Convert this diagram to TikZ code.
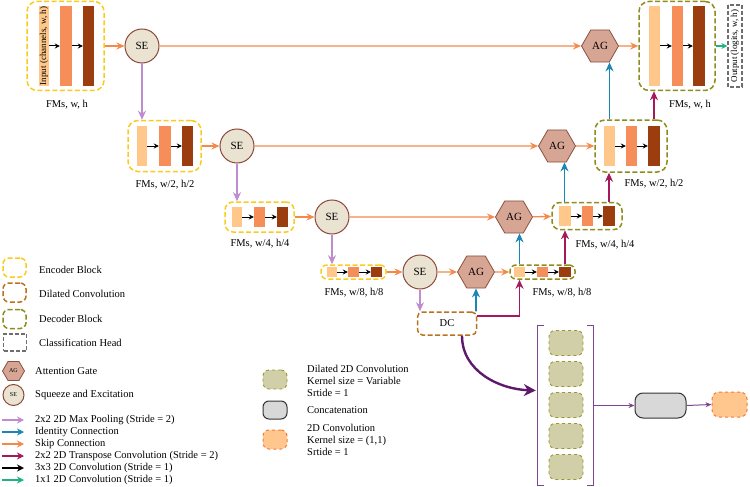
\documentclass[tikz,border=0pt]{standalone}
\usepackage{fontspec}
\setmainfont{Liberation Serif}
\usepackage{tikz}
\usetikzlibrary{positioning,shapes.geometric,arrows.meta}
\definecolor{encY}{HTML}{FACB1E}
\definecolor{dcBr}{HTML}{B8731E}
\definecolor{decOl}{HTML}{8E8C1C}
\definecolor{chGr}{HTML}{6E6E6E}
\definecolor{agFill}{HTML}{D7A593}
\definecolor{agDraw}{HTML}{8A5040}
\definecolor{seFill}{HTML}{EAE3D2}
\definecolor{seDraw}{HTML}{8C4A3C}
\definecolor{barA}{HTML}{FFC88A}
\definecolor{barB}{HTML}{F68E59}
\definecolor{barC}{HTML}{9B3D0F}
\definecolor{poolC}{HTML}{C08CD0}
\definecolor{idC}{HTML}{1B86B3}
\definecolor{skipC}{HTML}{F5894C}
\definecolor{tconvC}{HTML}{A4195B}
\definecolor{convG}{HTML}{1DB57A}
\definecolor{dcArrow}{HTML}{5D1A6B}
\definecolor{brkC}{HTML}{7E4490}
\definecolor{dlFill}{HTML}{D0CFA8}
\definecolor{dlDraw}{HTML}{9A9830}
\definecolor{catFill}{HTML}{D8D8D8}
\definecolor{cvFill}{HTML}{FFC78E}
\definecolor{cvDraw}{HTML}{F57A3C}

\begin{document}
\begin{tikzpicture}[x=1pt,y=-1pt,every node/.style={font=\fontsize{10.5}{12}\selectfont},
 blk/.style={draw,inner sep=0,line width=1.5pt,dash pattern=on 5pt off 2.5pt},
 enc/.style={blk,draw=encY,rounded corners=10pt},
 dec/.style={blk,draw=decOl,rounded corners=10pt},
 dcbox/.style={blk,draw=dcBr,rounded corners=5pt,minimum width=59pt,minimum height=23pt},
 chead/.style={blk,draw=chGr,line width=1.2pt,dash pattern=on 4pt off 2pt},
 bara/.style={fill=barA,inner sep=0},
 barb/.style={fill=barB,inner sep=0},
 barc/.style={fill=barC,inner sep=0},
 agnode/.style={regular polygon,regular polygon sides=6,minimum size=37pt,inner sep=0,
   fill=agFill,draw=agDraw,line width=0.8pt,font=\fontsize{11}{12}\selectfont},
 senode/.style={circle,fill=seFill,draw=seDraw,line width=1pt,minimum size=34pt,inner sep=0,
   font=\fontsize{11}{12}\selectfont},
 dlbox/.style={fill=dlFill,draw=dlDraw,line width=0.9pt,dashed,rounded corners=6pt,
   minimum width=34pt,minimum height=25pt,inner sep=0},
 catbox/.style={fill=catFill,draw=black!80,line width=1pt,rounded corners=8pt,
   minimum width=51pt,minimum height=25pt,inner sep=0},
 cvbox/.style={fill=cvFill,draw=cvDraw,line width=1pt,dashed,rounded corners=7pt,
   minimum width=35pt,minimum height=25pt,inner sep=0},
 pool/.style={draw=poolC,line width=1.8pt,-{Stealth[length=9pt,width=8pt]}},
 ident/.style={draw=idC,line width=1.8pt,-{Stealth[length=9pt,width=8pt]}},
 skip/.style={draw=skipC,line width=1.3pt,-{Stealth[length=8pt,width=7pt]}},
 tconv/.style={draw=tconvC,line width=1.8pt,-{Stealth[length=9pt,width=8pt]}},
 conv/.style={draw=black,line width=1pt,-{Stealth[length=5pt,width=5pt]}},
 onebyone/.style={draw=convG,line width=1.3pt,-{Stealth[length=6pt,width=6pt]}},
 brkline/.style={draw=brkC,line width=1.2pt},
 brkarrow/.style={draw=brkC,line width=1pt,-{Stealth[length=6pt,width=5pt]}},
 dcline/.style={draw=dcArrow,line width=2.4pt,-{Stealth[length=12pt,width=12pt]}},
 fms/.style={font=\fontsize{10.5}{12}\selectfont},
 legtext/.style={anchor=west,inner sep=0,align=left,font=\fontsize{10.5}{12}\selectfont}]
\useasboundingbox (0,0) rectangle (750,487);

% encoder
\node[enc,minimum width=77pt,minimum height=89pt] (enc1) at (65.5,46) {};
\node[bara,minimum width=80pt,minimum height=10pt,rotate=90,
  font=\fontsize{9}{9}\selectfont] (e1a) at (44,46) {Input (channels, w, h)};
\node[barb,minimum width=12pt,minimum height=80pt] (e1b) at (66,46) {};
\node[barc,minimum width=11pt,minimum height=80pt] (e1c) at (88.5,46) {};
\node[fms] (l1) at (67,105) {FMs, w, h};
\node[senode] (se1) at (142,46) {SE};

\node[enc,minimum width=73pt,minimum height=51pt] (enc2) at (164.5,146) {};
\node[bara,minimum width=10pt,minimum height=40pt] (e2a) at (142,146) {};
\node[barb,minimum width=12pt,minimum height=40pt] (e2b) at (165,146) {};
\node[barc,minimum width=11pt,minimum height=40pt] (e2c) at (187.5,146) {};
\node[fms] (l2) at (165,185) {FMs, w/2, h/2};
\node[senode] (se2) at (237,146) {SE};

\node[enc,rounded corners=8pt,minimum width=69pt,minimum height=30pt] (enc3) at (259.5,217) {};
\node[bara,minimum width=10pt,minimum height=20pt] (e3a) at (237,217) {};
\node[barb,minimum width=11pt,minimum height=20pt] (e3b) at (259.5,217) {};
\node[barc,minimum width=11pt,minimum height=20pt] (e3c) at (282.5,217) {};
\node[fms] (l3) at (260,244) {FMs, w/4, h/4};
\node[senode] (se3) at (332,217) {SE};

\node[enc,rounded corners=6pt,minimum width=65pt,minimum height=14pt] (enc4) at (353.5,272) {};
\node[bara,minimum width=10pt,minimum height=10pt] (e4a) at (332,272) {};
\node[barb,minimum width=11pt,minimum height=10pt] (e4b) at (353.5,272) {};
\node[barc,minimum width=11pt,minimum height=10pt] (e4c) at (376.5,272) {};
\node[fms] (l4) at (354,293) {FMs, w/8, h/8};
\node[senode] (se4) at (420,272) {SE};

\node[dcbox] (dc) at (447,323.5) {DC};

% attention gates
\node[agnode] (ag1) at (600,46) {AG};
\node[agnode] (ag2) at (557,146) {AG};
\node[agnode] (ag3) at (514,217) {AG};
\node[agnode] (ag4) at (476,272) {AG};

% decoder
\node[dec,minimum width=76pt,minimum height=89pt] (dec1) at (677,46) {};
\node[bara,minimum width=11pt,minimum height=80pt] (d1a) at (654.5,46) {};
\node[barb,minimum width=11pt,minimum height=80pt] (d1b) at (677.5,46) {};
\node[barc,minimum width=12pt,minimum height=80pt] (d1c) at (699,46) {};
\node[fms] (l5) at (690,105) {FMs, w, h};
\node[chead,minimum width=82pt,minimum height=14pt,rotate=90,
  font=\fontsize{9}{9}\selectfont] (out) at (735,46) {Output (logits, w, h)};

\node[dec,minimum width=72pt,minimum height=52pt] (dec2) at (631,146) {};
\node[bara,minimum width=11pt,minimum height=40pt] (d2a) at (609.5,146) {};
\node[barb,minimum width=11pt,minimum height=40pt] (d2b) at (631.5,146) {};
\node[barc,minimum width=12pt,minimum height=40pt] (d2c) at (654,146) {};
\node[fms] (l6) at (654,184) {FMs, w/2, h/2};

\node[dec,rounded corners=8pt,minimum width=70pt,minimum height=27pt] (dec3) at (587,216) {};
\node[bara,minimum width=12pt,minimum height=20pt] (d3a) at (564.5,216) {};
\node[barb,minimum width=11pt,minimum height=20pt] (d3b) at (587.5,216) {};
\node[barc,minimum width=12pt,minimum height=20pt] (d3c) at (609,216) {};
\node[fms] (l7) at (605,245) {FMs, w/4, h/4};

\node[dec,rounded corners=6pt,minimum width=65pt,minimum height=14pt] (dec4) at (542.5,272) {};
\node[bara,minimum width=11pt,minimum height=10pt] (d4a) at (519.5,272) {};
\node[barb,minimum width=11pt,minimum height=10pt] (d4b) at (542.5,272) {};
\node[barc,minimum width=12pt,minimum height=10pt] (d4c) at (565,272) {};
\node[fms] (l8) at (562,293) {FMs, w/8, h/8};

% convolutions inside the blocks
\draw[conv] (e1a) -- (e1b);
\draw[conv] (e1b) -- (e1c);
\draw[conv] (e2a) -- (e2b);
\draw[conv] (e2b) -- (e2c);
\draw[conv] (e3a) -- (e3b);
\draw[conv] (e3b) -- (e3c);
\draw[conv] (e4a) -- (e4b);
\draw[conv] (e4b) -- (e4c);
\draw[conv] (d1a) -- (d1b);
\draw[conv] (d1b) -- (d1c);
\draw[conv] (d2a) -- (d2b);
\draw[conv] (d2b) -- (d2c);
\draw[conv] (d3a) -- (d3b);
\draw[conv] (d3b) -- (d3c);
\draw[conv] (d4a) -- (d4b);
\draw[conv] (d4b) -- (d4c);

% skip connections
\draw[skip] (enc1) -- (se1);
\draw[skip] (se1) -- (ag1);
\draw[skip] (ag1) -- (dec1);
\draw[skip] (enc2) -- (se2);
\draw[skip] (se2) -- (ag2);
\draw[skip] (ag2) -- (dec2);
\draw[skip] (enc3) -- (se3);
\draw[skip] (se3) -- (ag3);
\draw[skip] (ag3) -- (dec3);
\draw[skip] (enc4) -- (se4);
\draw[skip] (se4) -- (ag4);
\draw[skip] (ag4) -- (dec4);
\draw[onebyone] (dec1.east) -- (dec1.east -| out.north);

% pooling
\draw[pool] (se1.south) -- (enc2.north -| se1);
\draw[pool] (se2.south) -- (enc3.north -| se2);
\draw[pool] (se3.south) -- (enc4.north -| se3);
\draw[pool] (se4.south) -- (dc.north -| se4);

% identity and transpose convolutions
\draw[ident] (dc.north -| ag4) -- (ag4.south);
\draw[tconv] ([yshift=-5pt]dc.north east) -| (dec4.south -| d4a);
\draw[ident] (dec4.north -| d4a) -- (ag3.south -| d4a);
\draw[tconv] (dec4.north -| d4c) -- (dec3.south -| d4c);
\draw[ident] (dec3.north -| d3a) -- (ag2.south -| d3a);
\draw[tconv] (dec3.north -| d3c) -- (dec2.south -| d3c);
\draw[ident] (dec2.north -| d2a) -- (ag1.south -| d2a);
\draw[tconv] (dec2.north -| d2c) -- (dec1.south -| d2c);

% dilated convolution detail
\node[minimum width=55pt,minimum height=159pt,inner sep=0] (brk) at (565.5,405.5) {};
\node[dlbox] (dl1) at (566,343) {};
\node[dlbox] (dl2) at (566,374) {};
\node[dlbox] (dl3) at (566,405) {};
\node[dlbox] (dl4) at (566,436) {};
\node[dlbox] (dl5) at (566,467) {};
\draw[brkline] ([xshift=6pt]brk.north west) -- (brk.north west) -- (brk.south west) -- ([xshift=6pt]brk.south west);
\draw[brkline] ([xshift=-6pt]brk.north east) -- (brk.north east) -- (brk.south east) -- ([xshift=-6pt]brk.south east);
\node[catbox] (cat) at (660.5,405.5) {};
\node[cvbox] (cv) at (729.5,404.5) {};
\draw[brkarrow] (brk.east) -- (cat.west);
\draw[brkarrow] (cat.east) -- (cv.west);
\draw[dcline] ([xshift=15pt]dc.south) to[out=-90,in=178] ([xshift=-2pt,yshift=15pt]brk.west);

% legend
\node[enc,rounded corners=6pt,minimum width=23pt,minimum height=19pt] (lenc) at (14.5,267.5) {};
\node[blk,draw=dcBr,rounded corners=6pt,minimum width=23pt,minimum height=19pt] (ldc) at (14.5,292.5) {};
\node[dec,rounded corners=6pt,minimum width=23pt,minimum height=19pt] (ldec) at (14.5,319) {};
\node[chead,minimum width=23pt,minimum height=17pt] (lch) at (15,342.5) {};
\node[legtext] (tenc) at (39,270) {Encoder Block};
\node[legtext] (tdc) at (39,294) {Dilated Convolution};
\node[legtext] (tdec) at (39,319) {Decoder Block};
\node[legtext] (tch) at (39,343) {Classification Head};
\node[agnode,minimum size=22pt,font=\fontsize{6}{7}\selectfont] (lag) at (13.5,371) {AG};
\node[senode,minimum size=21pt,font=\fontsize{6}{7}\selectfont] (lse) at (13.5,395) {SE};
\node[legtext] (tag) at (35,371) {Attention Gate};
\node[legtext] (tse) at (35,395) {Squeeze and Excitation};
\node[legtext] (tk1) at (35,420) {2x2 2D Max Pooling (Stride = 2)};
\node[legtext] (tk2) at (35,432) {Identity Connection};
\node[legtext] (tk3) at (35,444) {Skip Connection};
\node[legtext] (tk4) at (35,456) {2x2 2D Transpose Convolution (Stride = 2)};
\node[legtext] (tk5) at (35,468) {3x3 2D Convolution (Stride = 1)};
\node[legtext] (tk6) at (35,480) {1x1 2D Convolution (Stride = 1)};
\coordinate (lk1) at (2,420);
\coordinate (lk2) at (2,432);
\coordinate (lk3) at (2,444);
\coordinate (lk4) at (2,456);
\coordinate (lk5) at (2,468);
\coordinate (lk6) at (2,480);
\draw[pool,line width=1.3pt,-{Stealth[length=7pt,width=7pt]}] (lk1) -- ([xshift=-11pt]tk1.west);
\draw[ident,line width=1.3pt,-{Stealth[length=7pt,width=7pt]}] (lk2) -- ([xshift=-11pt]tk2.west);
\draw[skip,-{Stealth[length=7pt,width=7pt]}] (lk3) -- ([xshift=-11pt]tk3.west);
\draw[tconv,line width=1.3pt,-{Stealth[length=7pt,width=7pt]}] (lk4) -- ([xshift=-11pt]tk4.west);
\draw[conv,line width=1.3pt,-{Stealth[length=7pt,width=7pt]}] (lk5) -- ([xshift=-11pt]tk5.west);
\draw[onebyone,-{Stealth[length=7pt,width=7pt]}] (lk6) -- ([xshift=-11pt]tk6.west);

\node[dlbox,minimum width=24pt,minimum height=19pt] (ldl) at (275,379.5) {};
\node[catbox,rounded corners=6pt,minimum width=24pt,minimum height=18pt] (lcat) at (275,410) {};
\node[cvbox,rounded corners=6pt,minimum width=24pt,minimum height=19pt] (lcv) at (275,439.5) {};
\node[legtext] (tdl) at (307,381) {Dilated 2D Convolution\\Kernel size = Variable\\Srtide = 1};
\node[legtext] (tcat) at (307,410) {Concatenation};
\node[legtext] (tcv) at (307,440) {2D Convolution\\Kernel size = (1,1)\\Srtide = 1};
\end{tikzpicture}
\end{document}
